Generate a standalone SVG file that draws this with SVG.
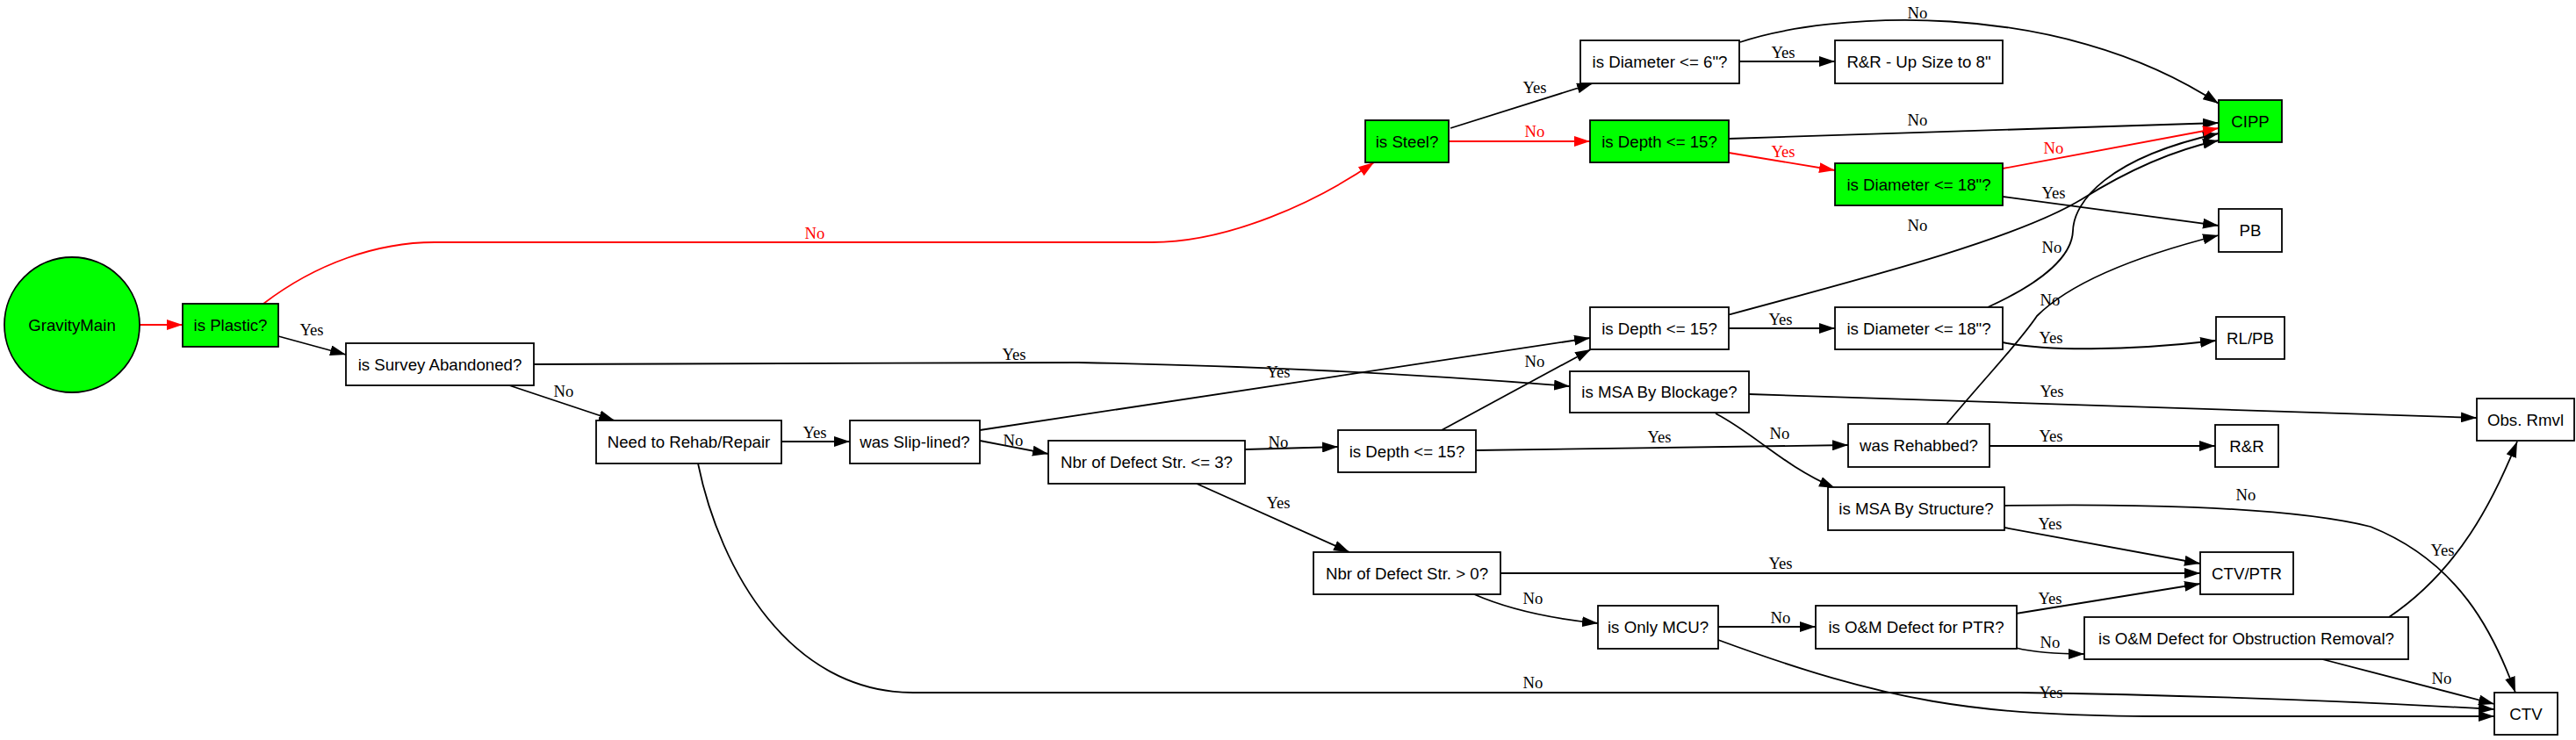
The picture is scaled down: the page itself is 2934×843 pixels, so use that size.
<svg xmlns="http://www.w3.org/2000/svg" width="2934" height="843" viewBox="0 0 2934 843">
<defs>
<style>
.n rect,.n ellipse{stroke:#000;stroke-width:1.8;fill:#fff}
.g rect,.g ellipse{fill:#00ff00}
.n text{font-family:"Liberation Sans",Arial,sans-serif;font-size:18.67px;text-anchor:middle;fill:#000}
.e path{fill:none;stroke:#000;stroke-width:1.8;marker-end:url(#ab)}
.e path.r{stroke:#ff0000;marker-end:url(#ar)}
.l text{font-family:"Liberation Serif","Times New Roman",serif;font-size:18.67px;text-anchor:middle;fill:#000}
.l text.r{fill:#ff0000}
</style>
<marker id="ab" markerUnits="userSpaceOnUse" markerWidth="18" markerHeight="12" refX="18" refY="6" orient="auto"><path d="M0,0 L18,6 L0,12 z" fill="#000"/></marker>
<marker id="ar" markerUnits="userSpaceOnUse" markerWidth="18" markerHeight="12" refX="18" refY="6" orient="auto"><path d="M0,0 L18,6 L0,12 z" fill="#ff0000"/></marker>
</defs>
<rect width="2934" height="843" fill="#fff"/>
<g id="connectors" class="e">
<path class="r" d="M159,370 L208,370"/>
<path d="M317,383 L394,404"/>
<path class="r" d="M300,346 C360,300 430,276 495,276 L1312,276 C1400,276 1500,230 1565,185"/>
<path d="M608,415 L1228,413 C1400,416 1600,425 1788,440"/>
<path d="M580,439 L700,479"/>
<path d="M890,503 L968,503"/>
<path d="M795,528 C820,650 900,789 1040,789 L2300,789 C2500,792 2700,800 2841,808"/>
<path d="M1116,490 L1811,385"/>
<path d="M1116,502 L1194,517"/>
<path d="M1418,512 L1524,509"/>
<path d="M1363,551 L1537,629"/>
<path d="M1642,490 L1812,398"/>
<path d="M1681,513 L2105,507"/>
<path d="M1709,653 L2506,653"/>
<path d="M1679,677 C1720,695 1770,705 1820,710"/>
<path d="M1957,714 L2068,714"/>
<path d="M1957,729 C2150,800 2250,815 2450,816 L2841,816"/>
<path d="M2296,699 L2506,665"/>
<path d="M2296,738 C2320,744 2345,745 2374,745"/>
<path d="M2721,703 C2800,650 2840,570 2867,503"/>
<path d="M2645,751 L2841,802"/>
<path d="M1992,449 L2821,476"/>
<path d="M1954,471 C2000,495 2030,530 2090,556"/>
<path d="M2266,508 L2523,508"/>
<path d="M2217,483 C2270,420 2300,390 2320,360 C2360,320 2440,290 2527,268"/>
<path d="M2283,601 L2506,642"/>
<path d="M2283,576 C2400,574 2600,575 2700,600 C2800,640 2840,720 2865,789"/>
<path d="M1969,374 L2090,374"/>
<path d="M1967,359 C2150,310 2300,270 2371,227 C2430,190 2480,170 2527,160"/>
<path d="M2264,350 C2330,320 2360,290 2361,263 C2362,230 2400,180 2527,152"/>
<path d="M2281,390 C2330,400 2420,400 2524,388"/>
<path d="M1652,146 L1814,95"/>
<path class="r" d="M1650,161 L1811,161"/>
<path d="M1981,70 L2090,70"/>
<path d="M1982,48 C2080,15 2340,-5 2527,118"/>
<path d="M1969,158 L2527,140"/>
<path class="r" d="M1969,174 L2090,194"/>
<path class="r" d="M2281,192 L2527,146"/>
<path d="M2281,224 L2527,257"/>
</g>
<g id="edge-labels" class="l">
<text x="355" y="382">Yes</text>
<text class="r" x="928" y="272">No</text>
<text x="1155" y="410">Yes</text>
<text x="642" y="452">No</text>
<text x="928" y="499">Yes</text>
<text x="1746" y="784">No</text>
<text x="1456" y="430">Yes</text>
<text x="1154" y="508">No</text>
<text x="1456" y="510">No</text>
<text x="1456" y="579">Yes</text>
<text x="1748" y="418">No</text>
<text x="1890" y="504">Yes</text>
<text x="2028" y="648">Yes</text>
<text x="1746" y="688">No</text>
<text x="2028" y="710">No</text>
<text x="2336" y="795">Yes</text>
<text x="2335" y="688">Yes</text>
<text x="2335" y="738">No</text>
<text x="2782" y="633">Yes</text>
<text x="2781" y="779">No</text>
<text x="2337" y="452">Yes</text>
<text x="2027" y="500">No</text>
<text x="2336" y="503">Yes</text>
<text x="2335" y="348">No</text>
<text x="2335" y="603">Yes</text>
<text x="2558" y="570">No</text>
<text x="2028" y="370">Yes</text>
<text x="2184" y="263">No</text>
<text x="2337" y="288">No</text>
<text x="2336" y="391">Yes</text>
<text x="1748" y="106">Yes</text>
<text class="r" x="1748" y="156">No</text>
<text x="2031" y="66">Yes</text>
<text x="2184" y="21">No</text>
<text x="2184" y="143">No</text>
<text class="r" x="2031" y="179">Yes</text>
<text class="r" x="2339" y="175">No</text>
<text x="2339" y="226">Yes</text>
</g>
<g id="GravityMain" class="n g"><ellipse cx="82" cy="370" rx="77" ry="77"/><text x="82" y="377">GravityMain</text></g>
<g id="isPlastic" class="n g"><rect x="208" y="346" width="109" height="49"/><text x="262.5" y="377">is Plastic?</text></g>
<g id="isSurveyAbandoned" class="n"><rect x="394" y="391" width="214" height="48"/><text x="501" y="421.5">is Survey Abandoned?</text></g>
<g id="NeedToRehabRepair" class="n"><rect x="679" y="479" width="211" height="49"/><text x="784.5" y="510">Need to Rehab/Repair</text></g>
<g id="wasSlipLined" class="n"><rect x="968" y="479" width="148" height="49"/><text x="1042" y="510">was Slip-lined?</text></g>
<g id="NbrDefectLe3" class="n"><rect x="1194" y="502" width="224" height="49"/><text x="1306" y="533">Nbr of Defect Str. &lt;= 3?</text></g>
<g id="isDepth3" class="n"><rect x="1524" y="490" width="157" height="48"/><text x="1602.5" y="520.5">is Depth &lt;= 15?</text></g>
<g id="NbrDefectGt0" class="n"><rect x="1496" y="629" width="213" height="48"/><text x="1602.5" y="659.5">Nbr of Defect Str. &gt; 0?</text></g>
<g id="isOnlyMCU" class="n"><rect x="1820" y="690" width="137" height="49"/><text x="1888.5" y="721">is Only MCU?</text></g>
<g id="isOMPTR" class="n"><rect x="2068" y="690" width="229" height="49"/><text x="2182.5" y="721">is O&amp;M Defect for PTR?</text></g>
<g id="isOMObstruction" class="n"><rect x="2374" y="703" width="369" height="48"/><text x="2558.5" y="733.5">is O&amp;M Defect for Obstruction Removal?</text></g>
<g id="CTV" class="n"><rect x="2841" y="789" width="72" height="48"/><text x="2877" y="819.5">CTV</text></g>
<g id="CTVPTR" class="n"><rect x="2506" y="629" width="106" height="48"/><text x="2559" y="659.5">CTV/PTR</text></g>
<g id="isMSAByStructure" class="n"><rect x="2082" y="555" width="201" height="49"/><text x="2182.5" y="586">is MSA By Structure?</text></g>
<g id="isMSAByBlockage" class="n"><rect x="1788" y="423" width="204" height="47"/><text x="1890" y="453">is MSA By Blockage?</text></g>
<g id="wasRehabbed" class="n"><rect x="2105" y="483" width="161" height="49"/><text x="2185.5" y="514">was Rehabbed?</text></g>
<g id="RR" class="n"><rect x="2523" y="484" width="72" height="48"/><text x="2559" y="514.5">R&amp;R</text></g>
<g id="ObsRmvl" class="n"><rect x="2821" y="454" width="111" height="48"/><text x="2876.5" y="484.5">Obs. Rmvl</text></g>
<g id="isDepth2" class="n"><rect x="1811" y="350" width="158" height="48"/><text x="1890" y="380.5">is Depth &lt;= 15?</text></g>
<g id="isDiameter18w" class="n"><rect x="2090" y="350" width="191" height="48"/><text x="2185.5" y="380.5">is Diameter &lt;= 18"?</text></g>
<g id="RLPB" class="n"><rect x="2524" y="361" width="78" height="48"/><text x="2563" y="391.5">RL/PB</text></g>
<g id="PB" class="n"><rect x="2527" y="238" width="72" height="49"/><text x="2563" y="269">PB</text></g>
<g id="CIPP" class="n g"><rect x="2527" y="114" width="72" height="48"/><text x="2563" y="144.5">CIPP</text></g>
<g id="isDiameter18g" class="n g"><rect x="2090" y="186" width="191" height="48"/><text x="2185.5" y="216.5">is Diameter &lt;= 18"?</text></g>
<g id="isDepth1" class="n g"><rect x="1811" y="137" width="158" height="48"/><text x="1890" y="167.5">is Depth &lt;= 15?</text></g>
<g id="isSteel" class="n g"><rect x="1555" y="137" width="95" height="48"/><text x="1602.5" y="167.5">is Steel?</text></g>
<g id="isDiameter6" class="n"><rect x="1800" y="46" width="181" height="49"/><text x="1890.5" y="77">is Diameter &lt;= 6"?</text></g>
<g id="RRUpSize" class="n"><rect x="2090" y="46" width="191" height="49"/><text x="2185.5" y="77">R&amp;R - Up Size to 8"</text></g>
</svg>
